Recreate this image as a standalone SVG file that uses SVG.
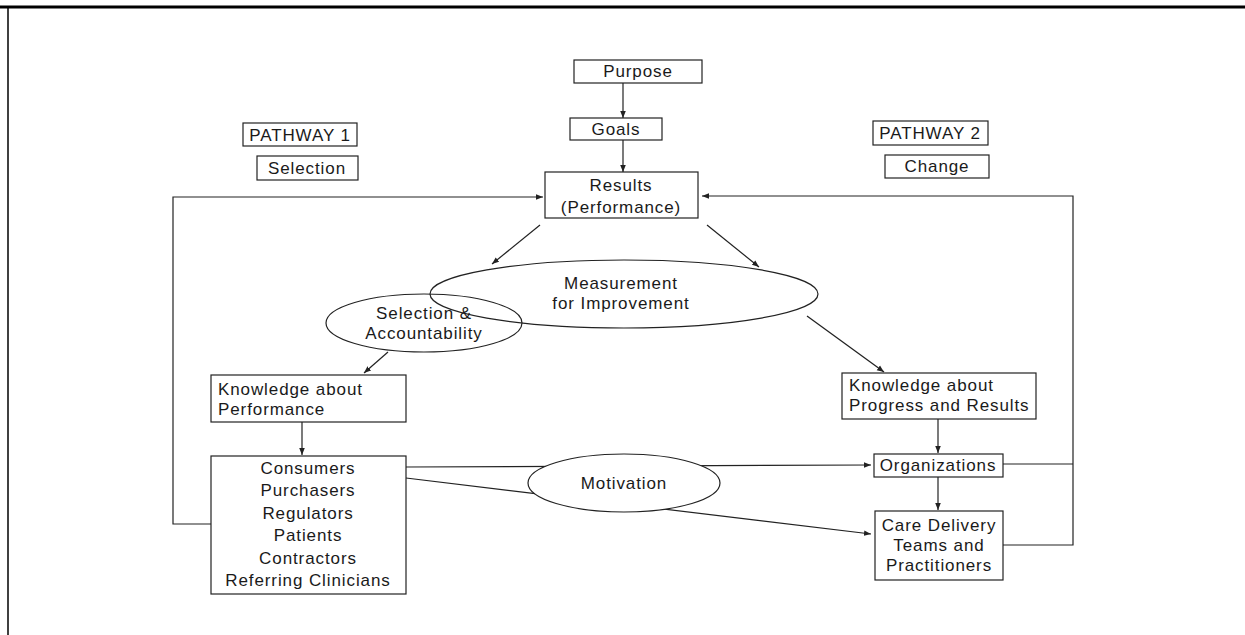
<svg xmlns="http://www.w3.org/2000/svg" width="1245" height="635" viewBox="0 0 1245 635">
<defs>
<style>
.box{fill:#fff;stroke:#222;stroke-width:1.2}
.ell{fill:none;stroke:#222;stroke-width:1.2}
.ellw{fill:#fff;stroke:#222;stroke-width:1.2}
.ln{fill:none;stroke:#222;stroke-width:1.2}
.t{font-family:"Liberation Sans",Arial,sans-serif;font-size:17px;letter-spacing:0.9px;fill:#1a1a1a}
.c{text-anchor:middle}
</style>
<marker id="ah" viewBox="0 0 10 10" refX="10" refY="5" markerWidth="7" markerHeight="7" orient="auto" markerUnits="userSpaceOnUse">
<path d="M0,1 L10,5 L0,9 z" fill="#222"/>
</marker>
</defs>
<rect width="1245" height="635" fill="#fff"/>
<g id="frame">
<line x1="0" y1="7" x2="1245" y2="7" stroke="#000" stroke-width="3"/>
<line x1="8" y1="6" x2="8" y2="635" stroke="#000" stroke-width="1.5"/>
</g>
<g id="connectors">
<line class="ln" x1="623" y1="83" x2="623" y2="118" marker-end="url(#ah)"/>
<line class="ln" x1="623" y1="140" x2="623" y2="172" marker-end="url(#ah)"/>
<line class="ln" x1="540" y1="225" x2="492" y2="264" marker-end="url(#ah)"/>
<line class="ln" x1="707" y1="225" x2="759" y2="267" marker-end="url(#ah)"/>
<line class="ln" x1="388" y1="352" x2="364" y2="373" marker-end="url(#ah)"/>
<line class="ln" x1="807" y1="316" x2="884" y2="372" marker-end="url(#ah)"/>
<line class="ln" x1="302" y1="422" x2="302" y2="455" marker-end="url(#ah)"/>
<line class="ln" x1="938" y1="419" x2="938" y2="453" marker-end="url(#ah)"/>
<line class="ln" x1="938" y1="477" x2="938" y2="510" marker-end="url(#ah)"/>
<polyline class="ln" points="211,524 173,524 173,197 543,197" marker-end="url(#ah)"/>
<polyline class="ln" points="1003,464 1073,464"/>
<polyline class="ln" points="1003,545 1073,545 1073,196 702,196" marker-end="url(#ah)"/>
<line class="ln" x1="406" y1="467" x2="871" y2="465" marker-end="url(#ah)"/>
<line class="ln" x1="406" y1="478" x2="871" y2="534" marker-end="url(#ah)"/>
</g>
<g id="purpose"><rect class="box" x="574" y="60" width="128" height="23"/><text class="t c" x="638" y="77">Purpose</text></g>
<g id="goals"><rect class="box" x="570" y="118" width="92" height="22"/><text class="t c" x="616" y="135">Goals</text></g>
<g id="results"><rect class="box" x="545" y="172" width="153" height="46"/><text class="t c" x="621" y="191">Results</text><text class="t c" x="621" y="213">(Performance)</text></g>
<g id="pathway1"><rect class="box" x="243" y="123" width="114" height="23"/><text class="t c" x="300" y="141">PATHWAY 1</text></g>
<g id="selection"><rect class="box" x="257" y="156" width="101" height="24"/><text class="t c" x="307" y="174">Selection</text></g>
<g id="pathway2"><rect class="box" x="873" y="121" width="115" height="24"/><text class="t c" x="930" y="139">PATHWAY 2</text></g>
<g id="change"><rect class="box" x="885" y="155" width="104" height="23"/><text class="t c" x="937" y="172">Change</text></g>
<g id="measurement"><ellipse class="ell" cx="624" cy="294" rx="194" ry="34"/><text class="t c" x="621" y="289">Measurement</text><text class="t c" x="621" y="309">for Improvement</text></g>
<g id="selacc"><ellipse class="ell" cx="424" cy="323" rx="98" ry="29"/><text class="t c" x="424" y="319">Selection &amp;</text><text class="t c" x="424" y="339">Accountability</text></g>
<g id="kap"><rect class="box" x="211" y="375" width="195" height="47"/><text class="t" x="218" y="395">Knowledge about</text><text class="t" x="218" y="415">Performance</text></g>
<g id="consumers"><rect class="box" x="211" y="456" width="195" height="138"/>
<text class="t c" x="308" y="474">Consumers</text><text class="t c" x="308" y="496">Purchasers</text><text class="t c" x="308" y="519">Regulators</text><text class="t c" x="308" y="541">Patients</text><text class="t c" x="308" y="564">Contractors</text><text class="t c" x="308" y="586">Referring Clinicians</text></g>
<g id="kapr"><rect class="box" x="842" y="373" width="194" height="46"/><text class="t" x="849" y="391">Knowledge about</text><text class="t" x="849" y="411">Progress and Results</text></g>
<g id="organizations"><rect class="box" x="874" y="454" width="129" height="23"/><text class="t c" x="938" y="471">Organizations</text></g>
<g id="care"><rect class="box" x="875" y="511" width="128" height="69"/><text class="t c" x="939" y="531">Care Delivery</text><text class="t c" x="939" y="551">Teams and</text><text class="t c" x="939" y="571">Practitioners</text></g>
<g id="motivation"><ellipse class="ellw" cx="624" cy="483" rx="96" ry="29"/><text class="t c" x="624" y="489">Motivation</text></g>
</svg>
